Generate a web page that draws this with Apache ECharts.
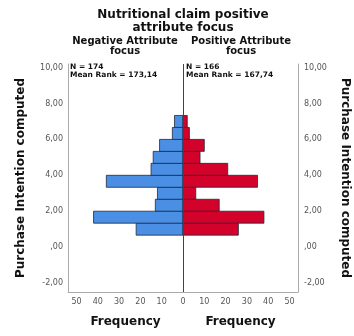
<!DOCTYPE html>
<html>
<head>
<meta charset="utf-8">
<script src="https://cdn.jsdelivr.net/npm/echarts@6/dist/echarts.min.js"></script>
<style>
  html, body { margin: 0; padding: 0; background: #fff; }
  #chart { width: 354px; height: 336px; }
</style>
</head>
<body>
<div id="chart"></div>
<script>
// bin centres of Purchase Intention (bins are 2/3 wide)
const binCenters = [1, 1.667, 2.333, 3, 3.667, 4.333, 5, 5.667, 6.333, 7];
const negativeCounts = [22, 42, 13, 12, 36, 15, 14, 11, 5, 4];
const positiveCounts = [26, 38, 17, 6, 35, 21, 8, 10, 3, 2];
const yTicks = [-2, 0, 2, 4, 6, 8, 10];
const leftFreqTicks = [0, 10, 20, 30, 40, 50];
const rightFreqTicks = [10, 20, 30, 40, 50];
const binHalf = 1 / 3;

const chart = echarts.init(document.getElementById('chart'));

const font = 'DejaVu Sans';
const boxColor = '#aaaaaa';
const labelColor = '#555555';

const fmtY = v => (v === 0 ? ',00' : v.toFixed(2).replace('.', ','));

function renderBar(params, api) {
  const count = api.value(0);
  const mid = api.value(1);
  const p0 = api.coord([0, mid + binHalf]);
  const p1 = api.coord([count, mid - binHalf]);
  return {
    type: 'rect',
    shape: {
      x: Math.min(p0[0], p1[0]),
      y: p0[1],
      width: Math.abs(p1[0] - p0[0]),
      height: p1[1] - p0[1]
    },
    style: api.style({ stroke: '#1f2a3a', lineWidth: 0.8 })
  };
}

const xAxisBase = {
  type: 'value',
  min: 0,
  max: 54,
  splitLine: { show: false },
  axisTick: { show: false },
  axisLine: { show: true, onZero: false, lineStyle: { color: boxColor } },
  nameLocation: 'middle',
  nameGap: 24,
  name: 'Frequency',
  nameTextStyle: { fontFamily: font, fontWeight: 'bold', fontSize: 12, color: '#111' }
};

const yAxisBase = {
  type: 'value',
  min: -2.5,
  max: 10.2,
  splitLine: { show: false },
  axisTick: { show: false },
  axisLine: { show: true, onZero: false, lineStyle: { color: boxColor } },
  name: 'Purchase Intention computed',
  nameLocation: 'middle',
  nameGap: 41,
  nameTextStyle: { fontFamily: font, fontWeight: 'bold', fontSize: 12, color: '#111' }
};

const labelText = (x, y, text, size, align) => ({
  type: 'text',
  x, y,
  style: {
    text,
    fontFamily: font,
    fontWeight: 'bold',
    fontSize: size,
    fill: '#111',
    align: align || 'center',
    verticalAlign: 'middle'
  }
});

chart.setOption({
  animation: false,
  grid: [
    { left: 68, width: 115, top: 64, height: 228 },
    { left: 183, width: 115, top: 64, height: 228 }
  ],
  xAxis: [
    {
      ...xAxisBase,
      gridIndex: 0,
      inverse: true,
      axisLabel: { customValues: leftFreqTicks, fontFamily: font, fontSize: 8, color: labelColor, margin: 6 }
    },
    {
      ...xAxisBase,
      gridIndex: 1,
      axisLabel: { customValues: rightFreqTicks, fontFamily: font, fontSize: 8, color: labelColor, margin: 6 }
    }
  ],
  yAxis: [
    {
      ...yAxisBase,
      gridIndex: 0,
      position: 'left',
      nameRotate: 90,
      axisLabel: { customValues: yTicks, formatter: fmtY, fontFamily: font, fontSize: 8, color: labelColor, margin: 5 }
    },
    {
      ...yAxisBase,
      gridIndex: 1,
      position: 'right',
      nameRotate: -90,
      axisLabel: { customValues: yTicks, formatter: fmtY, fontFamily: font, fontSize: 8, color: labelColor, margin: 6 }
    }
  ],
  graphic: [
    labelText(183, 15, 'Nutritional claim positive', 12),
    labelText(183, 28, 'attribute focus', 12),
    labelText(125, 41, 'Negative Attribute', 10),
    labelText(125, 51, 'focus', 10),
    labelText(241, 41, 'Positive Attribute', 10),
    labelText(241, 51, 'focus', 10),
    labelText(70, 67, 'N = 174', 7.5, 'left'),
    labelText(70, 75, 'Mean Rank = 173,14', 7.5, 'left'),
    labelText(186, 67, 'N = 166', 7.5, 'left'),
    labelText(186, 75, 'Mean Rank = 167,74', 7.5, 'left')
  ],
  series: [
    {
      name: 'Negative Attribute focus',
      type: 'custom',
      xAxisIndex: 0,
      yAxisIndex: 0,
      renderItem: renderBar,
      itemStyle: { color: '#4a8fe3' },
      encode: { x: 0, y: 1 },
      data: negativeCounts.map((c, i) => [c, binCenters[i]])
    },
    {
      name: 'Positive Attribute focus',
      type: 'custom',
      xAxisIndex: 1,
      yAxisIndex: 1,
      renderItem: renderBar,
      itemStyle: { color: '#d2022a' },
      encode: { x: 0, y: 1 },
      data: positiveCounts.map((c, i) => [c, binCenters[i]]),
      markLine: {
        silent: true,
        symbol: 'none',
        label: { show: false },
        lineStyle: { color: '#444', width: 1, type: 'solid' },
        data: [{ xAxis: 0 }]
      }
    }
  ]
});
</script>
</body>
</html>
